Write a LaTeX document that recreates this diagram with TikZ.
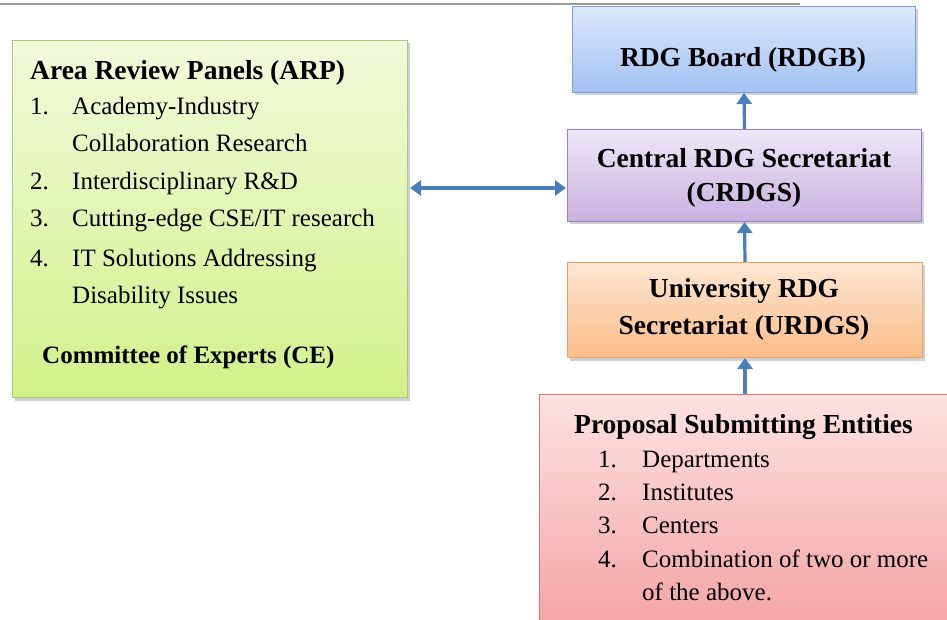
\documentclass[tikz,border=0pt]{standalone}
\usepackage{fontspec}
\setmainfont{LiberationSerif-Regular.ttf}[BoldFont=LiberationSerif-Bold.ttf]
\usetikzlibrary{shadows,arrows.meta}
\definecolor{bluetop}{HTML}{DDE8FB}
\definecolor{bluebot}{HTML}{A3C1F3}
\definecolor{bluebd}{HTML}{7BA0D8}
\definecolor{purtop}{HTML}{EFE7F7}
\definecolor{purbot}{HTML}{C8B2E0}
\definecolor{purbd}{HTML}{9A80C3}
\definecolor{oratop}{HTML}{FDE6D3}
\definecolor{orabot}{HTML}{FBBD8A}
\definecolor{orabd}{HTML}{F0A060}
\definecolor{redtop}{HTML}{FDE2E2}
\definecolor{redbot}{HTML}{F3A2A2}
\definecolor{redbd}{HTML}{D27B7B}
\definecolor{grntop}{HTML}{F2FADC}
\definecolor{grnbot}{HTML}{D3F08A}
\definecolor{grnbd}{HTML}{A9C97A}
\definecolor{arrowc}{HTML}{4A7EBB}
\definecolor{rulec}{HTML}{9A9A9A}
\tikzset{
  box/.style={draw, line width=1pt, rectangle, inner sep=0pt, anchor=north west,
    drop shadow={shadow xshift=2pt,shadow yshift=-3pt,opacity=0.3,fill=black!60}},
  bluebox/.style={box, draw=bluebd, top color=bluetop, bottom color=bluebot},
  purbox/.style={box, draw=purbd, top color=purtop, bottom color=purbot},
  orabox/.style={box, draw=orabd, top color=oratop, bottom color=orabot},
  redbox/.style={box, draw=redbd, top color=redtop, bottom color=redbot},
  grnbox/.style={box, draw=grnbd, top color=grntop, bottom color=grnbot},
  conn/.style={draw=arrowc, line width=3.2pt, -{Triangle[length=11pt,width=15pt]}},
  dconn/.style={draw=arrowc, line width=3.2pt, {Triangle[length=11pt,width=15pt]}-{Triangle[length=11pt,width=15pt]}},
  bt/.style={font=\fontsize{27.5}{33}\selectfont\bfseries, inner sep=0pt},
  rt/.style={font=\fontsize{25}{33}\selectfont, inner sep=0pt},
}
\begin{document}
\begin{tikzpicture}[x=1pt,y=-1pt]
\useasboundingbox (0,0) rectangle (947,620);
\fill[white] (0,0) rectangle (947,620);
\draw[rulec, line width=1.5pt] (0,4) -- (800,4);

% boxes
\node[grnbox, minimum width=395pt, minimum height=357pt] (arp) at (12,40) {};
\node[bluebox, minimum width=343pt, minimum height=86pt] (rdgb) at (572,6) {};
\node[purbox, minimum width=354pt, minimum height=92pt] (crdgs) at (567,129) {};
\node[orabox, minimum width=355pt, minimum height=95pt] (urdgs) at (567,262) {};
\node[redbox, minimum width=420pt, minimum height=240pt] (pse) at (539,394) {};

% ARP text
\node[bt, anchor=base west] (arpt) at (30,80) {Area Review Panels (ARP)};
\node[rt, anchor=base west] (n1) at (30,115) {1.};
\node[rt, anchor=base west] (a1) at (72,115) {Academy-Industry};
\node[rt, anchor=base west] (a1b) at (72,152) {Collaboration Research};
\node[rt, anchor=base west] (n2) at (30,190) {2.};
\node[rt, anchor=base west] (a2) at (72,190) {Interdisciplinary R\&D};
\node[rt, anchor=base west] (n3) at (30,227) {3.};
\node[rt, anchor=base west] (a3) at (72,227) {Cutting-edge CSE/IT research};
\node[rt, anchor=base west] (n4) at (30,266) {4.};
\node[rt, anchor=base west] (a4) at (72,266) {IT Solutions Addressing};
\node[rt, anchor=base west] (a4b) at (72,303) {Disability Issues};
\node[bt, anchor=base west, font=\fontsize{25}{33}\selectfont\bfseries] (ce) at (42,363) {Committee of Experts (CE)};

% right column text
\node[bt, anchor=base] (rdgbt) at (743,67) {RDG Board (RDGB)};
\node[bt, anchor=base] (crd1) at (744,168) {Central RDG Secretariat};
\node[bt, anchor=base] (crd2) at (744,202) {(CRDGS)};
\node[bt, anchor=base] (urd1) at (744,298) {University RDG};
\node[bt, anchor=base] (urd2) at (744,334) {Secretariat (URDGS)};

% PSE text
\node[bt, anchor=base west] (pset) at (574,433) {Proposal Submitting Entities};
\node[rt, anchor=base west] (p1n) at (598,467) {1.};
\node[rt, anchor=base west] (p1) at (642,467) {Departments};
\node[rt, anchor=base west] (p2n) at (598,500) {2.};
\node[rt, anchor=base west] (p2) at (642,500) {Institutes};
\node[rt, anchor=base west] (p3n) at (598,533) {3.};
\node[rt, anchor=base west] (p3) at (642,533) {Centers};
\node[rt, anchor=base west] (p4n) at (598,567) {4.};
\node[rt, anchor=base west] (p4) at (642,567) {Combination of two or more};
\node[rt, anchor=base west] (p4b) at (642,600) {of the above.};

% connectors
\coordinate (ay) at (0,188);
\draw[dconn, shorten <=2pt, shorten >=1pt] (arp.east |- ay) -- (crdgs.west |- ay);
\draw[conn] (crdgs.north) -- (rdgb.south);
\draw[conn] (urdgs.north) -- (crdgs.south);
\draw[conn] (pse.north -| urdgs.south) -- (urdgs.south);
\end{tikzpicture}
\end{document}
